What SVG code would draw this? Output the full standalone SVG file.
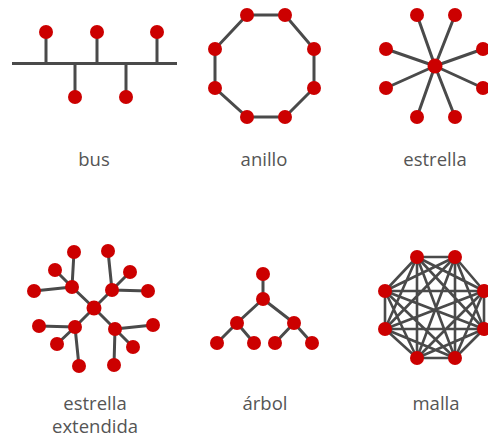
<svg xmlns="http://www.w3.org/2000/svg" width="488" height="440" viewBox="0 0 488 440">
<style>
.l{stroke:#4a4a4a;stroke-width:3;fill:none;stroke-linecap:butt}
.m{stroke:#4a4a4a;stroke-width:2.6;fill:none}
.n{fill:#cc0000}
.t{font-family:"Open Sans",sans-serif;font-size:18.5px;fill:#555;text-anchor:middle}
</style>
<rect width="488" height="440" fill="#fff"/>
<g id="connectors">
<!-- bus -->
<path class="l" d="M12 63.5H177M46 32V63.5M97 32V63.5M157 32V63.5M75 63.5V97M126 63.5V97"/>
<!-- ring -->
<path class="l" d="M247 15L285 15L314 49L314 88L285 117L247 117L215 88L215 49Z"/>
<!-- star -->
<path class="l" d="M435 66L417 15M435 66L455 15M435 66L483 49M435 66L483 88M435 66L455 117M435 66L417 117M435 66L386 88M435 66L386 49"/>
<!-- extended star -->
<path class="l" d="M94 308L72 287M94 308L112 290M94 308L75 327M94 308L115 329
M72 287L74 252M72 287L55 270M72 287L34 291
M112 290L108 251M112 290L130 272M112 290L148 291
M75 327L39 326M75 327L57 344M75 327L79 366
M115 329L153 325M115 329L133 347M115 329L114 365"/>
<!-- tree -->
<path class="l" d="M263 274L263 299M263 299L237 323M263 299L294 323M237 323L217 343M237 323L254 343M294 323L275 343M294 323L312 343"/>
<!-- mesh -->
<path class="m" d="M417 257L455 257M417 257L484 291M417 257L484 329M417 257L455 358M417 257L417 358M417 257L385 329M417 257L385 291
M455 257L484 291M455 257L484 329M455 257L455 358M455 257L417 358M455 257L385 329M455 257L385 291
M484 291L484 329M484 291L455 358M484 291L417 358M484 291L385 329M484 291L385 291
M484 329L455 358M484 329L417 358M484 329L385 329M484 329L385 291
M455 358L417 358M455 358L385 329M455 358L385 291
M417 358L385 329M417 358L385 291
M385 329L385 291"/>
</g>
<g id="bus">
<circle class="n" cx="46" cy="32" r="7"/><circle class="n" cx="97" cy="32" r="7"/><circle class="n" cx="157" cy="32" r="7"/>
<circle class="n" cx="75" cy="97" r="7"/><circle class="n" cx="126" cy="97" r="7"/>
<text class="t" x="94" y="166">bus</text>
</g>
<g id="anillo">
<circle class="n" cx="247" cy="15" r="7"/><circle class="n" cx="285" cy="15" r="7"/><circle class="n" cx="314" cy="49" r="7"/><circle class="n" cx="314" cy="88" r="7"/>
<circle class="n" cx="285" cy="117" r="7"/><circle class="n" cx="247" cy="117" r="7"/><circle class="n" cx="215" cy="88" r="7"/><circle class="n" cx="215" cy="49" r="7"/>
<text class="t" x="264" y="166">anillo</text>
</g>
<g id="estrella">
<circle class="n" cx="435" cy="66" r="7.5"/>
<circle class="n" cx="417" cy="15" r="7"/><circle class="n" cx="455" cy="15" r="7"/><circle class="n" cx="483" cy="49" r="7"/><circle class="n" cx="483" cy="88" r="7"/>
<circle class="n" cx="455" cy="117" r="7"/><circle class="n" cx="417" cy="117" r="7"/><circle class="n" cx="386" cy="88" r="7"/><circle class="n" cx="386" cy="49" r="7"/>
<text class="t" x="435" y="166">estrella</text>
</g>
<g id="estrella-extendida">
<circle class="n" cx="94" cy="308" r="7.5"/>
<circle class="n" cx="72" cy="287" r="7"/><circle class="n" cx="112" cy="290" r="7"/><circle class="n" cx="75" cy="327" r="7"/><circle class="n" cx="115" cy="329" r="7"/>
<circle class="n" cx="74" cy="252" r="7"/><circle class="n" cx="55" cy="270" r="7"/><circle class="n" cx="34" cy="291" r="7"/>
<circle class="n" cx="108" cy="251" r="7"/><circle class="n" cx="130" cy="272" r="7"/><circle class="n" cx="148" cy="291" r="7"/>
<circle class="n" cx="39" cy="326" r="7"/><circle class="n" cx="57" cy="344" r="7"/><circle class="n" cx="79" cy="366" r="7"/>
<circle class="n" cx="153" cy="325" r="7"/><circle class="n" cx="133" cy="347" r="7"/><circle class="n" cx="114" cy="365" r="7"/>
<text class="t" x="95" y="410">estrella</text>
<text class="t" x="95" y="433">extendida</text>
</g>
<g id="arbol">
<circle class="n" cx="263" cy="274" r="7"/><circle class="n" cx="263" cy="299" r="7"/>
<circle class="n" cx="237" cy="323" r="7"/><circle class="n" cx="294" cy="323" r="7"/>
<circle class="n" cx="217" cy="343" r="7"/><circle class="n" cx="254" cy="343" r="7"/><circle class="n" cx="275" cy="343" r="7"/><circle class="n" cx="312" cy="343" r="7"/>
<text class="t" x="265" y="410">árbol</text>
</g>
<g id="malla">
<circle class="n" cx="417" cy="257" r="7"/><circle class="n" cx="455" cy="257" r="7"/><circle class="n" cx="484" cy="291" r="7"/><circle class="n" cx="484" cy="329" r="7"/>
<circle class="n" cx="455" cy="358" r="7"/><circle class="n" cx="417" cy="358" r="7"/><circle class="n" cx="385" cy="329" r="7"/><circle class="n" cx="385" cy="291" r="7"/>
<text class="t" x="436" y="410">malla</text>
</g>
</svg>
